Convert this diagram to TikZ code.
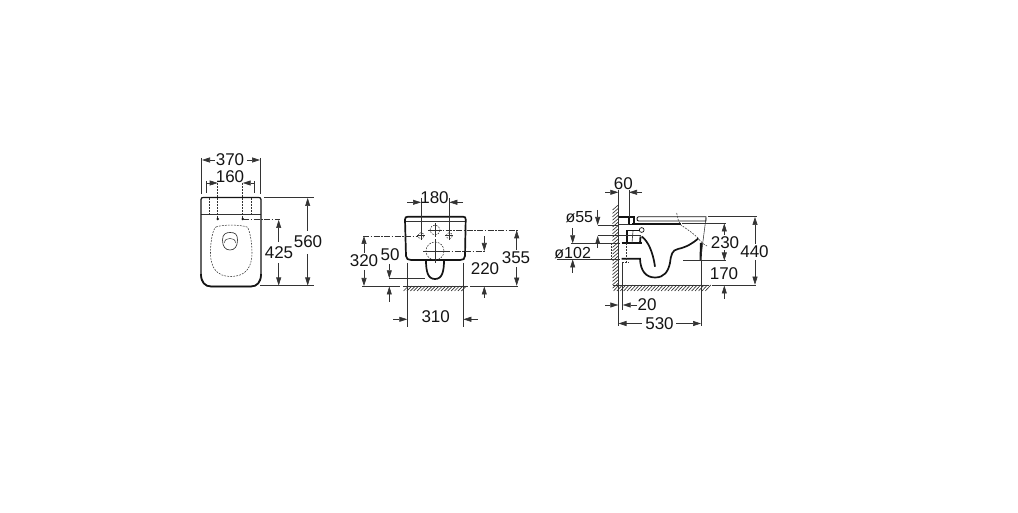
\documentclass[tikz,border=0pt]{standalone}
\usepackage{fontspec}
\setmainfont{Liberation Sans}
\usetikzlibrary{arrows.meta}
\definecolor{ink}{HTML}{141414}
\definecolor{thin}{HTML}{333333}
\tikzset{
  dim/.style={draw=thin,line width=0.6pt},
  ar/.style={dim,-{Triangle[length=8pt,width=5pt]}},
  ext/.style={draw=thin,line width=0.55pt},
  ctr/.style={draw=thin,line width=0.55pt,dash pattern=on 6pt off 1.5pt on 1.5pt off 1.5pt},
  hid/.style={draw=thin,line width=0.55pt,dash pattern=on 1.8pt off 1.2pt},
  heavy/.style={draw=ink,line width=1.7pt},
  med/.style={draw=ink,line width=1pt},
  lab/.style={font=\fontsize{17}{17}\selectfont,text=ink,inner sep=0pt},
  labs/.style={font=\fontsize{16}{16}\selectfont,text=ink,inner sep=0pt},
  hatch/.style={draw=thin,line width=0.65pt}
}
\begin{document}
\begin{tikzpicture}[x=1pt,y=-1pt]
\useasboundingbox (0,0) rectangle (1018,513);
% ---------- front view
\draw[draw=thin,line width=0.7pt] (201,214) -- (261,214);
\draw[med,line width=1.2pt] (201,199.5) .. controls (201,198) and (202,197.5) .. (203.5,197.5) -- (258.5,197.5) .. controls (260,197.5) and (261,198) .. (261,199.5) -- (261,276) .. controls (261,282) and (257,286.5) .. (251,286.5) -- (211,286.5) .. controls (205,286.5) and (201,282) .. (201,276) -- cycle;
\draw[heavy] (261,274) .. controls (261,282) and (257,286.5) .. (251,286.5) -- (211,286.5) .. controls (205,286.5) and (201,282) .. (201,274);
\draw[heavy,line width=1.4pt] (203.5,197.5) -- (258.5,197.5);
\foreach \x in {209.5,251.5}{\draw[hid] (\x,198) -- (\x,214);}
\foreach \x in {217.7,242.7}{\draw[hid] (\x,183) -- (\x,219); \fill[ink] (\x,219) circle (1.4);}
\draw[ctr] (243,219) -- (280,219);
% seat
\draw[hid] (216,227) .. controls (222,224.5) and (240,224.5) .. (247,227) .. controls (249,228) and (252,240) .. (252,253) .. controls (252,268) and (245,276.5) .. (231,276.5) .. controls (217,276.5) and (210.5,268) .. (210.5,253) .. controls (210.5,240) and (213,229) .. (216,227) -- cycle;
\draw[draw=thin,line width=0.65pt] (222.5,240) .. controls (222.5,234) and (226,232.5) .. (230,232.5) .. controls (235,232.5) and (237.5,234) .. (237.5,240) .. controls (237.5,246) and (235,250) .. (230,250) .. controls (225,250) and (222.5,246) .. (222.5,240) -- cycle;
\draw[draw=thin,line width=0.5pt] (224.5,243) .. controls (224.5,239.5) and (227,238.5) .. (230,238.5) .. controls (233,238.5) and (235.5,239.5) .. (235.5,243);
% dims
\draw[ext] (201.7,158) -- (201.7,194);
\draw[ext] (260,158) -- (260,194);
\draw[ar] (215,160) -- (202,160);
\draw[ar] (247,160) -- (260,160);
\node[lab] (d370) at (230,160) {370};
\draw[ext] (206,181) -- (206,193);
\draw[ext] (254,181) -- (254,193);
\draw[ar] (206,183) -- (217.7,183);
\draw[ar] (254,183) -- (242.7,183);
\node[lab] (d160) at (230,176.5) {160};
\draw[ext] (264,197.5) -- (314,197.5);
\draw[ext] (260,285.7) -- (314,285.7);
\draw[ar] (307.7,231) -- (307.7,198);
\draw[ar] (307.7,254) -- (307.7,285.5);
\node[lab] (d560) at (308,242) {560};
\draw[ar] (278.7,242) -- (278.7,220);
\draw[ar] (278.7,263) -- (278.7,285.5);
\node[lab] (d425) at (279,252.7) {425};
% ---------- rear view
\draw[draw=thin,line width=0.7pt] (406,221.7) -- (465,221.7);
\draw[heavy] (405,219.5) .. controls (405,217.5) and (406,216.7) .. (408,216.7) -- (463,216.7) .. controls (465,216.7) and (465.7,217.5) .. (465.7,219.5) -- (465,256) .. controls (465,259) and (463,260) .. (460,260) -- (411,260) .. controls (408,260) and (406.5,259) .. (406,256) -- cycle;
\draw[heavy] (426,260) .. controls (426,272) and (428,279) .. (435,279) .. controls (442,279) and (444,272) .. (444,260);
\foreach \x/\y/\r/\e in {421/235.7/3/4,449.3/235.7/3/4,435/230/5/7,435/251/9/12}{
  \draw[hid] (\x,\y) circle (\r);
  \draw[draw=thin,line width=0.55pt] (\x-\e,\y) -- (\x+\e,\y) (\x,\y-\e) -- (\x,\y+\e);
}
\draw[ext] (421,198) -- (421,233);
\draw[ext] (449.3,198) -- (449.3,233);
\draw[ar] (407,202.3) -- (421,202.3);
\draw[ar] (463,202.3) -- (449.3,202.3);
\node[lab] (d180) at (434.5,197.5) {180};
\draw[ctr] (363,236) -- (418,236);
\draw[ar] (364,253) -- (364,236);
\draw[ar] (364,270) -- (364,286);
\node[lab] (d320) at (364,261) {320};
\draw[ext] (362,286) -- (400,286);
\node[lab] (d50) at (390,255) {50};
\draw[ar] (389.3,264) -- (389.3,278.3);
\draw[ext] (389.3,278.3) -- (425,278.3);
\draw[ar] (389.3,301.7) -- (389.3,286.5);
\draw[ctr] (444,251) -- (485,251);
\draw[ar] (484.3,236.5) -- (484.3,251);
\draw[ar] (484.3,298) -- (484.3,286.5);
\node[lab] (d220) at (485,268.5) {220};
\draw[ext] (470,286) -- (518,286);
\draw[ctr] (435,230) -- (518,230);
\draw[ar] (516.7,250) -- (516.7,230.3);
\draw[ar] (516.7,267) -- (516.7,285.7);
\node[lab] (d355) at (516,257.7) {355};
\draw[hatch] (403,286) -- (468,286);
\foreach \i in {0,3.4,...,60}{\draw[hatch] (403.5+\i,291) -- (408.5+\i,286);}
\draw[ext] (407.3,263) -- (407.3,326.7);
\draw[ext] (463.3,263) -- (463.3,326.7);
\draw[ar] (393,319.3) -- (407.3,319.3);
\draw[ar] (477.5,319.3) -- (463.3,319.3);
\node[lab] (d310) at (435.7,316.7) {310};
% ---------- side view
\draw[hatch] (618.3,205) -- (618.3,292);
\foreach \i in {0,3.4,...,80}{\draw[hatch] (612.5,210+\i) -- (618.3,205+\i);}
\draw[hatch] (613,285) -- (709,285);
\foreach \i in {0,3.4,...,92}{\draw[hatch] (613.5+\i,291) -- (619+\i,285);}
\draw[med,line width=0.9pt] (638.5,216.8) -- (706,216.8) -- (706,221) -- (638.5,221) .. controls (636.5,221) and (636.5,216.8) .. (638.5,216.8) -- cycle;
\draw[heavy,line width=2pt] (632,224.3) -- (681,224.3);
\draw[heavy,line width=2pt] (618.5,217.3) -- (634,217.3) -- (634,224.3);
\draw[heavy,line width=1.2pt] (629,217.3) -- (629,224.3) -- (634,224.3);
\draw[draw=thin,line width=0.6pt] (618.5,224.3) -- (629,224.3);
\draw[heavy,line width=1.8pt] (626.7,243.3) -- (626.7,230.5) -- (640,230.5);
\draw[heavy,line width=1.8pt] (640.5,236.5) -- (640,243.3);
\draw[heavy] (621.7,243.3) -- (642,243.3);
\draw[draw=thin,line width=0.6pt] (633,231) -- (632,243);
\draw[draw=thin,line width=0.6pt] (618,235.7) -- (640.5,235.7);
\draw[draw=ink,line width=0.7pt] (641.7,230) circle (2.4);
\draw[heavy] (641.7,236.5) .. controls (648,241) and (653,252) .. (655,266.7);
\draw[heavy] (621.7,258.8) -- (640,258.8) .. controls (640.5,271) and (646,277.5) .. (655,277.5) .. controls (664,277.5) and (668,272) .. (670,263) .. controls (671,255) and (672,250) .. (678,249) .. controls (687,247) and (693,243) .. (698.3,238.5);
\draw[hid] (676.7,213) .. controls (677.5,218) and (678.5,222) .. (681,225) .. controls (688,230) and (693,233) .. (698,238) .. controls (700,241) and (703,244) .. (707,246);
\fill[ink] (700,243) -- (702.5,243) -- (701.5,260.5) -- (699.5,260.5) -- cycle;
\draw[ext] (706,218) -- (700.5,260);
\draw[hid] (611,243.3) -- (611,260);
\draw[hid] (626.7,243.3) -- (626.7,262);
\draw[hid] (622,262) -- (629,262);
\draw[hid] (610,243.3) -- (618,243.3);
% dims
\draw[ext] (618.3,190) -- (618.3,205);
\draw[ext] (629,190) -- (629,217);
\draw[ar] (605,192.3) -- (618.3,192.3);
\draw[ar] (642,192.3) -- (629,192.3);
\node[lab] (d60) at (623.3,184) {60};
\node[labs] (d55) at (579.3,217.3) {ø55};
\draw[ar] (597.7,210) -- (597.7,225);
\draw[ext] (597.7,225) -- (618,225);
\draw[ext] (597.7,235.7) -- (618,235.7);
\draw[ar] (597.7,248) -- (597.7,236);
\node[labs] (d102) at (572.7,252.7) {ø102};
\draw[ar] (572.7,228) -- (572.7,243.3);
\draw[ext] (571,243.3) -- (620,243.3);
\draw[ext] (557,259.3) -- (620,259.3);
\draw[ar] (572.7,273) -- (572.7,259.5);
\node[lab] (d20) at (647,305) {20};
\draw[ext] (622.7,262) -- (622.7,310);
\draw[ar] (605,305) -- (618.3,305);
\draw[ar] (637,305) -- (622.7,305);
\draw[ext] (618.3,292) -- (618.3,326);
\draw[ext] (701,260) -- (701,326);
\node[lab] (d530) at (659.5,324) {530};
\draw[ar] (642,323.5) -- (618.5,323.5);
\draw[ar] (676,323.5) -- (701,323.5);
\draw[ext] (682,223.3) -- (726,223.3);
\draw[ext] (683,260.7) -- (726,260.7);
\draw[ar] (724.3,235) -- (724.3,223.5);
\draw[ar] (724.3,250) -- (724.3,260.5);
\node[lab] (d230) at (725,242.3) {230};
\node[lab] (d170) at (724,274) {170};
\draw[ar] (724.3,299) -- (724.3,285.5);
\draw[ext] (712,285) -- (756,285);
\draw[ext] (708,216.7) -- (757,216.7);
\draw[ar] (755,244) -- (755,217);
\draw[ar] (755,260) -- (755,284.7);
\node[lab] (d440) at (754.5,251.7) {440};
\end{tikzpicture}
\end{document}
